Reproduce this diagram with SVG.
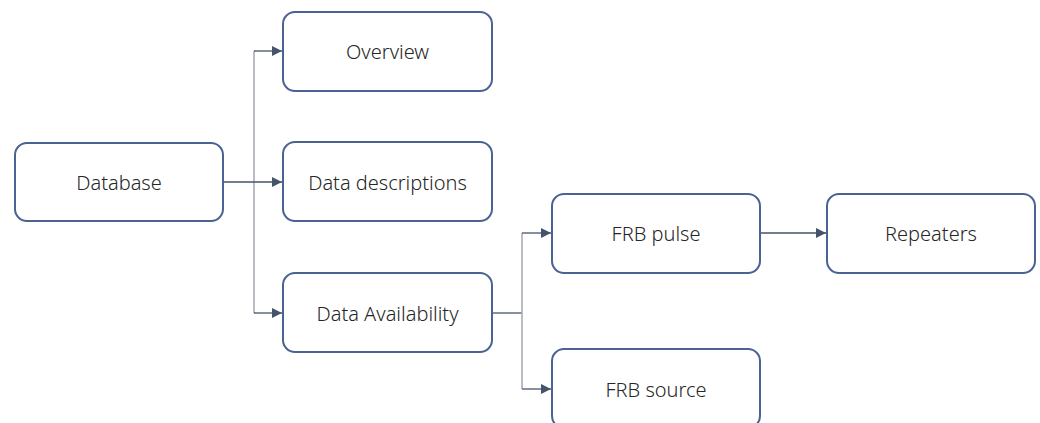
<svg xmlns="http://www.w3.org/2000/svg" width="1040" height="423" viewBox="0 0 1040 423">
<style>
.box{fill:#fff;stroke:#4a6393;stroke-width:2}
.lbl{font-family:"Noto Sans","Open Sans",sans-serif;font-size:20px;font-weight:300;fill:#262626;text-anchor:middle;dominant-baseline:central}
.ln{fill:none;stroke:#44546a;stroke-width:1.3}
.tr{fill:none;stroke:#a3a8b0;stroke-width:1.5}
</style>
<defs>
<marker id="ar" viewBox="0 0 10 10" refX="10" refY="5" markerWidth="10" markerHeight="10" markerUnits="userSpaceOnUse" orient="auto">
<path d="M0,0 L10,5 L0,10 z" fill="#44546a"/>
</marker>
</defs>
<g id="connectors">
<path class="tr" d="M254,51 V313"/>
<path class="ln" d="M254,51 H282" marker-end="url(#ar)"/>
<path class="ln" d="M223,182 H282" marker-end="url(#ar)"/>
<path class="ln" d="M254,313 H282" marker-end="url(#ar)"/>
<path class="ln" d="M492,313 H522"/>
<path class="tr" d="M522,233 V389"/>
<path class="ln" d="M522,233 H551" marker-end="url(#ar)"/>
<path class="ln" d="M522,389 H551" marker-end="url(#ar)"/>
<path class="ln" d="M760,233 H826" marker-end="url(#ar)"/>
</g>
<g id="database"><rect class="box" x="15" y="143" width="208" height="78" rx="12"/><text class="lbl" x="119" y="182">Database</text></g>
<g id="overview"><rect class="box" x="283" y="12" width="209" height="79" rx="12"/><text class="lbl" x="387.5" y="51">Overview</text></g>
<g id="data-descriptions"><rect class="box" x="283" y="142" width="209" height="79" rx="12"/><text class="lbl" x="387.5" y="182">Data descriptions</text></g>
<g id="data-availability"><rect class="box" x="283" y="273" width="209" height="79" rx="12"/><text class="lbl" x="387.5" y="313">Data Availability</text></g>
<g id="frb-pulse"><rect class="box" x="552" y="194" width="208" height="79" rx="12"/><text class="lbl" x="656" y="233">FRB pulse</text></g>
<g id="repeaters"><rect class="box" x="827" y="194" width="208" height="79" rx="12"/><text class="lbl" x="931" y="233">Repeaters</text></g>
<g id="frb-source"><rect class="box" x="552" y="349" width="208" height="79" rx="12"/><text class="lbl" x="656" y="389">FRB source</text></g>
</svg>
